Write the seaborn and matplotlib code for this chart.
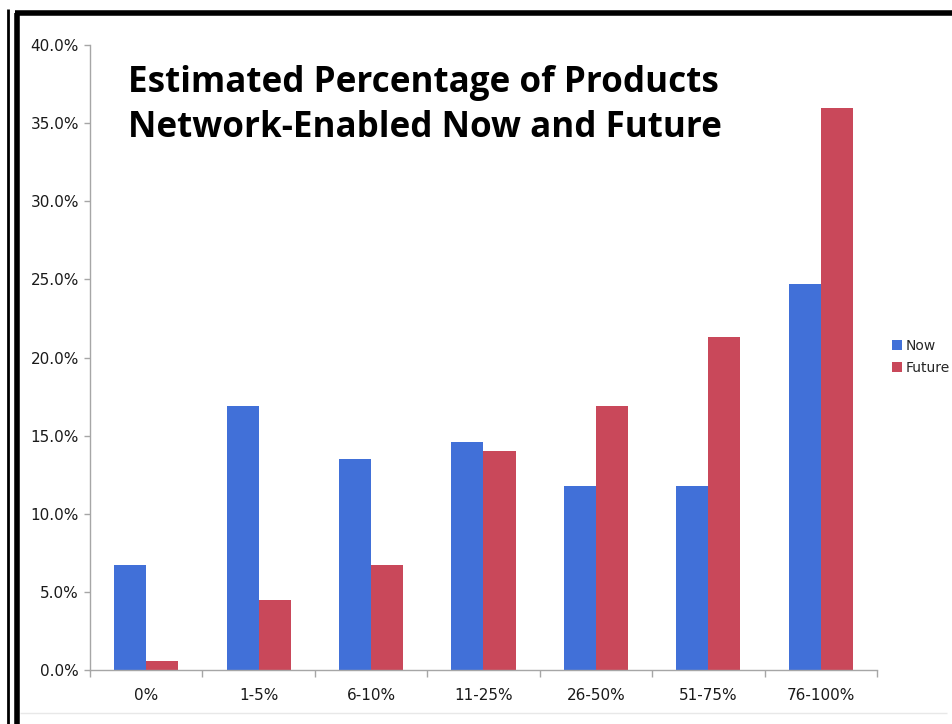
import matplotlib
matplotlib.use("Agg")
import matplotlib.pyplot as plt
from matplotlib.lines import Line2D
from matplotlib.patches import Patch
from matplotlib.ticker import FuncFormatter, MultipleLocator, FixedLocator
import numpy as np
import pandas as pd
import seaborn as sns

# Share of products that are network-enabled, by bucket
buckets = ["0%", "1-5%", "6-10%", "11-25%", "26-50%", "51-75%", "76-100%"]
now_pct = [6.7, 16.9, 13.5, 14.6, 11.8, 11.8, 24.7]
future_pct = [0.6, 4.5, 6.7, 14.0, 16.9, 21.3, 36.0]
series = ["Now", "Future"]
colors = {"Now": "#4170d8", "Future": "#c9485a"}

df = pd.DataFrame({
    "bucket": buckets * 2,
    "series": ["Now"] * len(buckets) + ["Future"] * len(buckets),
    "pct": now_pct + future_pct,
})

sns.set_style("white")
plt.rcParams["font.family"] = ["DejaVu Sans"]

W, H = 953, 724
fig = plt.figure(figsize=(W / 100, H / 100), dpi=100)
ax = fig.add_axes([90 / W, (H - 670) / H, (877 - 90) / W, (670 - 45) / H])

sns.barplot(data=df, x="bucket", y="pct", hue="series", order=buckets,
            hue_order=series, palette=colors, width=0.57, saturation=1,
            edgecolor="none", legend=False, ax=ax)

ax.set_xlim(-0.5, len(buckets) - 0.5)
ax.set_ylim(0, 40)
ax.yaxis.set_major_locator(MultipleLocator(5))
ax.yaxis.set_major_formatter(FuncFormatter(lambda v, _: f"{v:.1f}%"))
ax.set_xlabel("")
ax.set_ylabel("")

axis_grey = "#a6a6a6"
for side in ("top", "right"):
    ax.spines[side].set_visible(False)
for side in ("left", "bottom"):
    ax.spines[side].set_color(axis_grey)
    ax.spines[side].set_linewidth(1.0)

# category boundaries carry the x tick marks; labels sit at the centres
ax.xaxis.set_minor_locator(FixedLocator(np.arange(-0.5, len(buckets), 1.0)))
ax.tick_params(axis="x", which="major", length=0, pad=13, labelsize=11,
               labelcolor="#1a1a1a")
ax.tick_params(axis="x", which="minor", bottom=True, length=5, width=1,
               color=axis_grey, direction="out")
ax.tick_params(axis="y", which="major", left=True, length=4, width=1,
               color=axis_grey, direction="out", pad=4, labelsize=11,
               labelcolor="#1a1a1a")

# two-line title inside the plot area
title_font = dict(family=["Open Sans", "DejaVu Sans"], fontweight="bold",
                  fontsize=25.2, color="black")
fig.text(128 / W, 1 - 92 / H, "Estimated Percentage of Products",
         va="baseline", ha="left", **title_font)
fig.text(128 / W, 1 - 137 / H, "Network-Enabled Now and Future",
         va="baseline", ha="left", **title_font)

handles = [Patch(facecolor=colors[s], edgecolor="none") for s in series]
ax.legend(handles, series, loc="center left", frameon=False,
          bbox_to_anchor=(892 / W, 1 - 357 / H),
          bbox_transform=fig.transFigure, fontsize=10,
          handlelength=0.75, handleheight=0.75, handletextpad=0.25,
          labelspacing=0.6, borderaxespad=0, borderpad=0)

# frame around the slide
def fline(x0, y0, x1, y1, lw, color):
    fig.add_artist(Line2D([x0 / W, x1 / W], [1 - y0 / H, 1 - y1 / H],
                          transform=fig.transFigure, lw=lw, color=color,
                          solid_capstyle="butt"))

fline(8, 9, 8, H, 2.0, "black")
fline(17.5, 12.5, 17.5, H, 4.0, "black")
fline(15.5, 12.5, W, 12.5, 4.0, "black")
fline(20, 713, 947, 713, 1.0, "#e8e8e8")

fig.savefig("out.png", dpi=100, facecolor="white")
